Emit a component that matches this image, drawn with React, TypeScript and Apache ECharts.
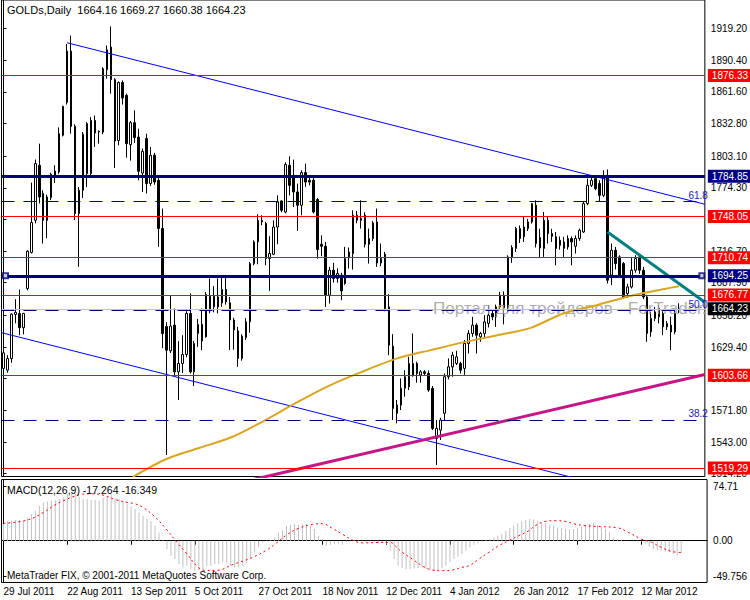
import React, { useEffect, useRef } from 'react';
import * as echarts from 'echarts';

const FONT = "'Liberation Sans', Arial, sans-serif";
const FS = 10;
const MONTHS = ['Jan', 'Feb', 'Mar', 'Apr', 'May', 'Jun', 'Jul', 'Aug', 'Sep', 'Oct', 'Nov', 'Dec'];
const HOLIDAYS = ['2012-01-02'];

function tradingDays(y: number, m: number, d: number, n: number): string[] {
  const out: string[] = [];
  const dt = new Date(Date.UTC(y, m, d));
  while (out.length < n) {
    const wd = dt.getUTCDay();
    const iso = dt.toISOString().slice(0, 10);
    if (wd !== 0 && wd !== 6 && HOLIDAYS.indexOf(iso) < 0) {
      out.push(`${dt.getUTCDate()} ${MONTHS[dt.getUTCMonth()]} ${dt.getUTCFullYear()}`);
    }
    dt.setUTCDate(dt.getUTCDate() + 1);
  }
  return out;
}

const categories = tradingDays(2011, 6, 29, 177);
const LAST = 170;

// [open, high, low, close]
const ohlc: number[][] = [
  [1610.0, 1632.0, 1608.0, 1624.1], [1608.4, 1622.0, 1606.0, 1618.9], [1618.9, 1660.0, 1615.0, 1659.3], [1659.0, 1673.0, 1651.0, 1661.0],
  [1659.9, 1681.7, 1640.2, 1647.0], [1647.0, 1660.5, 1641.0, 1660.0], [1682.7, 1717.5, 1681.0, 1716.6], [1715.4, 1779.0, 1714.5, 1742.8],
  [1744.7, 1800.0, 1742.0, 1796.3], [1794.7, 1814.4, 1760.0, 1765.9], [1769.0, 1772.0, 1723.5, 1744.7], [1744.7, 1768.0, 1728.4, 1765.9],
  [1765.4, 1788.0, 1763.0, 1786.5], [1785.6, 1794.7, 1778.6, 1789.5], [1788.6, 1829.2, 1787.0, 1823.5], [1822.0, 1849.0, 1821.0, 1848.3],
  [1852.0, 1905.0, 1850.0, 1898.6], [1898.6, 1912.8, 1823.5, 1830.1], [1830.1, 1832.0, 1745.0, 1750.8], [1750.8, 1775.0, 1702.3, 1772.0],
  [1772.0, 1825.0, 1765.0, 1822.9], [1832.6, 1834.0, 1775.0, 1787.2], [1787.2, 1838.6, 1783.5, 1835.6], [1835.6, 1840.0, 1811.4, 1824.1],
  [1825.6, 1826.5, 1814.4, 1825.0], [1825.0, 1884.0, 1823.0, 1882.6], [1881.7, 1903.7, 1873.5, 1899.8], [1902.2, 1921.0, 1859.9, 1872.6],
  [1872.6, 1874.0, 1792.3, 1816.8], [1817.3, 1871.0, 1812.9, 1870.1], [1870.1, 1872.0, 1850.0, 1855.9], [1858.3, 1860.0, 1801.7, 1814.4],
  [1813.5, 1835.0, 1799.0, 1833.5], [1833.5, 1844.7, 1815.0, 1819.9], [1820.4, 1828.0, 1781.1, 1789.3], [1787.7, 1810.0, 1770.5, 1807.4],
  [1819.0, 1823.5, 1769.0, 1778.1], [1778.1, 1811.4, 1776.0, 1803.8], [1803.8, 1806.0, 1777.0, 1779.5], [1781.1, 1783.0, 1720.5, 1737.2],
  [1737.2, 1755.4, 1628.4, 1641.8], [1648.0, 1652.0, 1531.2, 1626.6], [1626.0, 1676.0, 1624.0, 1648.4], [1649.3, 1664.5, 1603.9, 1606.9],
  [1606.9, 1634.8, 1581.2, 1614.5], [1614.5, 1640.2, 1605.7, 1622.6], [1622.6, 1662.0, 1620.0, 1659.9], [1659.9, 1678.2, 1605.4, 1606.9],
  [1606.9, 1635.0, 1593.9, 1632.7], [1641.8, 1655.0, 1629.6, 1650.0], [1650.0, 1664.5, 1626.6, 1635.0], [1638.7, 1679.3, 1638.0, 1677.2],
  [1675.7, 1691.8, 1660.0, 1662.3], [1666.0, 1684.8, 1661.0, 1675.7], [1675.0, 1691.8, 1660.0, 1666.0], [1669.6, 1693.2, 1666.0, 1681.7],
  [1681.7, 1693.0, 1668.0, 1670.5], [1669.6, 1675.0, 1626.6, 1654.0], [1654.0, 1656.0, 1627.0, 1645.0], [1644.1, 1647.8, 1611.4, 1619.1],
  [1619.1, 1641.0, 1617.0, 1639.3], [1638.1, 1655.7, 1636.0, 1652.3], [1652.3, 1706.8, 1642.3, 1705.3], [1705.3, 1726.5, 1703.8, 1725.0],
  [1725.0, 1750.2, 1704.7, 1744.7], [1743.2, 1749.3, 1740.2, 1744.7], [1741.7, 1743.2, 1703.8, 1709.9], [1709.9, 1730.2, 1680.5, 1714.5],
  [1713.8, 1744.7, 1713.0, 1738.6], [1738.6, 1767.4, 1722.9, 1761.4], [1762.3, 1763.0, 1752.0, 1753.8], [1752.3, 1797.5, 1751.0, 1795.4],
  [1794.7, 1802.9, 1767.4, 1776.5], [1784.1, 1799.9, 1756.8, 1770.5], [1770.5, 1778.1, 1735.0, 1758.4], [1758.4, 1790.2, 1749.3, 1788.1],
  [1788.1, 1796.3, 1775.0, 1779.5], [1781.1, 1785.6, 1776.5, 1779.5], [1781.1, 1784.7, 1751.0, 1752.3], [1763.6, 1765.0, 1709.9, 1718.1],
  [1722.9, 1731.0, 1712.0, 1721.1], [1721.1, 1725.0, 1665.9, 1676.6], [1676.6, 1702.3, 1669.0, 1699.3], [1699.3, 1706.0, 1688.0, 1691.8],
  [1691.8, 1701.0, 1688.0, 1696.3], [1694.8, 1696.9, 1672.0, 1680.5], [1687.2, 1720.5, 1686.0, 1709.9], [1711.4, 1719.9, 1700.8, 1715.9],
  [1714.5, 1753.8, 1699.9, 1749.3], [1744.7, 1753.2, 1742.0, 1749.3], [1746.3, 1762.9, 1737.2, 1744.7], [1749.3, 1752.0, 1720.0, 1722.9],
  [1722.9, 1737.2, 1705.3, 1728.1], [1728.1, 1744.0, 1726.0, 1742.3], [1743.2, 1755.4, 1702.3, 1705.9], [1705.9, 1723.6, 1703.0, 1709.9],
  [1713.8, 1716.0, 1662.0, 1664.5], [1665.9, 1677.5, 1622.0, 1631.1], [1630.2, 1641.1, 1563.0, 1573.6], [1576.6, 1581.2, 1560.0, 1569.1],
  [1576.6, 1600.9, 1572.1, 1591.9], [1591.9, 1608.4, 1584.2, 1602.4], [1593.2, 1620.5, 1590.3, 1614.5], [1603.9, 1641.8, 1602.4, 1614.5],
  [1614.5, 1616.0, 1597.0, 1605.4], [1603.9, 1608.4, 1597.0, 1606.9], [1606.9, 1608.4, 1603.0, 1605.4], [1605.4, 1608.0, 1588.7, 1590.3],
  [1591.8, 1594.0, 1553.9, 1555.4], [1546.3, 1563.0, 1522.1, 1555.4], [1553.9, 1565.0, 1544.8, 1563.0], [1569.1, 1605.4, 1563.0, 1602.4],
  [1602.4, 1619.1, 1600.0, 1611.4], [1611.4, 1625.1, 1602.4, 1622.1], [1614.5, 1626.0, 1613.0, 1620.5], [1614.5, 1616.0, 1605.4, 1608.4],
  [1610.0, 1635.7, 1603.9, 1632.7], [1632.7, 1644.8, 1623.6, 1641.8], [1641.8, 1656.9, 1638.7, 1649.3], [1649.3, 1651.0, 1623.6, 1640.2],
  [1638.7, 1643.2, 1634.2, 1641.8], [1641.8, 1658.4, 1637.2, 1652.3], [1650.9, 1667.5, 1647.2, 1658.4], [1659.9, 1663.0, 1653.8, 1656.9],
  [1656.9, 1668.0, 1647.8, 1665.9], [1665.9, 1679.6, 1664.0, 1676.6], [1676.6, 1680.0, 1650.0, 1665.0], [1665.0, 1712.9, 1661.0, 1711.4],
  [1711.4, 1722.0, 1706.0, 1719.9], [1719.1, 1738.6, 1715.9, 1737.2], [1737.2, 1740.0, 1724.0, 1728.1], [1729.7, 1747.8, 1725.0, 1738.6],
  [1737.2, 1746.0, 1735.0, 1743.2], [1743.2, 1760.5, 1741.7, 1759.9], [1758.4, 1762.9, 1720.0, 1723.6], [1729.0, 1737.0, 1711.0, 1719.5],
  [1719.1, 1752.3, 1711.4, 1744.7], [1744.7, 1747.8, 1723.6, 1732.6], [1732.6, 1737.0, 1725.0, 1730.2], [1729.7, 1734.1, 1703.8, 1719.1],
  [1726.5, 1730.0, 1718.0, 1722.0], [1719.1, 1729.7, 1711.4, 1725.0], [1720.5, 1731.0, 1718.0, 1728.1], [1728.1, 1730.0, 1703.8, 1725.0],
  [1721.1, 1731.0, 1714.5, 1728.1], [1728.1, 1737.2, 1726.0, 1735.6], [1734.1, 1761.4, 1733.2, 1759.9], [1759.9, 1782.6, 1758.4, 1776.5],
  [1776.5, 1785.6, 1775.0, 1781.1], [1782.6, 1785.6, 1772.0, 1773.5], [1778.1, 1781.1, 1761.4, 1767.4], [1767.4, 1790.2, 1765.9, 1784.1],
  [1785.6, 1790.9, 1687.2, 1690.2], [1694.8, 1723.6, 1685.7, 1717.5], [1717.5, 1720.5, 1700.0, 1705.3], [1711.4, 1712.9, 1693.2, 1694.8],
  [1705.3, 1706.8, 1673.6, 1675.0], [1678.1, 1687.0, 1674.0, 1684.1], [1684.1, 1711.4, 1682.7, 1699.3], [1699.3, 1712.9, 1697.0, 1709.9],
  [1711.4, 1713.0, 1696.0, 1699.3], [1699.3, 1702.3, 1673.0, 1675.0], [1675.0, 1677.0, 1634.2, 1641.8], [1643.2, 1661.4, 1638.7, 1655.4],
  [1655.4, 1665.9, 1653.0, 1661.4], [1664.5, 1667.5, 1650.9, 1656.9], [1659.9, 1662.0, 1640.2, 1647.8], [1647.8, 1653.0, 1645.0, 1650.9],
  [1649.3, 1656.9, 1626.6, 1643.2], [1643.2, 1663.0, 1641.0, 1659.9], [1664.16, 1669.27, 1660.38, 1664.23],
];

const macdHist: number[] = [
  23.0, 26.8, 27.7, 28.6, 28.6, 28.6, 32.3, 36.9, 41.5, 48.4, 53.0, 54.4, 55.3, 56.3, 57.6, 60.0,
  64.6, 65.5, 64.6, 60.9, 57.6, 57.6, 56.3, 56.3, 55.3, 59.0, 62.3, 63.6, 59.0, 57.6, 55.3, 50.7,
  47.0, 43.8, 39.2, 34.6, 30.0, 26.8, 20.8, 11.5, 0.5, -11.5, -20.8, -25.4, -32.3, -36.9, -34.6, -39.2,
  -41.5, -40.6, -39.2, -34.6, -34.6, -32.3, -32.3, -30.0, -30.0, -34.6, -36.9, -36.9, -34.6, -30.0,
  -23.0, -16.1, -9.2, -2.3, 0.3, 1.0, 4.6, 11.5, 14.8, 20.8, 22.1, 23.0, 22.1, 23.0, 23.0, 20.8,
  16.1, 6.9, 2.3, -6.9, -5.5, -4.6, -3.7, -5.5, -2.3, -1.4, 0.5, 0.5, -0.9, -2.3, -0.9, -2.3,
  -3.7, -2.3, -4.6, -13.8, -25.4, -34.6, -37.8, -39.2, -39.2, -38.3, -37.8, -37.8, -39.2, -40.6, -42.4, -41.5,
  -37.8, -34.6, -30.0, -25.4, -22.1, -18.4, -13.8, -9.2, -5.5, -3.7, -0.9, 0.9, 2.3, 4.6, 6.9, 9.2,
  13.8, 17.5, 20.8, 24.0, 26.8, 28.6, 30.0, 29.5, 27.7, 25.4, 24.0, 22.1, 20.8, 18.4, 17.5, 16.1,
  15.7, 16.1, 17.5, 19.4, 22.1, 23.0, 24.0, 22.1, 19.4, 16.1, 12.0, 4.6, 2.3, 0.9, -0.9, -1.4,
  -0.9, -0.9, -1.4, -3.7, -8.3, -11.5, -12.9, -13.8, -14.8, -16.1, -18.4, -20.8, -17.3,
];

// [bar, value]
const signalPts: number[][] = [
  [0, 24], [6, 28.6], [10, 39], [12.6, 48.4], [15, 55.3], [19, 63.5], [22, 65], [25, 63], [28, 57], [31, 53],
  [33, 51], [35, 46], [38, 33], [41, 15], [43.5, -2], [46, -18], [48.5, -35], [50.5, -41], [53.5, -41], [57.5, -33],
  [62.5, -23], [66, -13], [68.5, -3], [71, 8], [74, 17], [77.5, 22.5], [80, 23.5], [82.5, 17], [85, 9], [87.5, 1],
  [90, -3], [94, -2.5], [97, -2.3], [98.4, -8], [100, -16], [102.6, -25.4], [105, -34.6], [107.6, -40.6], [110, -41.5],
  [112.6, -40.6], [115, -36.9], [117, -34], [119.25, -25.4], [121.75, -16.1], [124.25, -6.9], [126.75, 0], [129.25, 6.9],
  [131.75, 13.8], [133.4, 20.8], [135.9, 26.8], [138.4, 27.7], [140.9, 26.8], [143.4, 23], [146, 20.8], [150, 19.4],
  [154, 18], [156.75, 11.5], [160, 2.3], [162.6, -2.3], [165, -9.2], [167.6, -14.8], [170, -16.349],
];

// [bar, price]
const maPts: number[][] = [
  [32.5, 1511.2], [41, 1527.6], [49.25, 1537.6], [57.5, 1547.6], [65, 1561.2], [73.5, 1578.4], [81.75, 1593.9],
  [90, 1606.6], [99.25, 1619.3], [107.5, 1626.6], [116, 1633.9], [124.25, 1640.2], [132.5, 1646.6], [141, 1660.2],
  [149.25, 1667.5], [157.5, 1675.7], [166, 1682.0], [170, 1684.8],
];

const priceTicks = [1919.2, 1890.4, 1861.6, 1832.8, 1803.1, 1774.3, 1745.5, 1716.7, 1687.9, 1658.2, 1629.4, 1600.6, 1571.8, 1543.0, 1514.2];
const macdTicks = [74.71, 0, -49.756];
const macdTickLabels = ['74.71', '0.00', '-49.756'];

const redLevels = [1876.33, 1748.05, 1710.74, 1676.77, 1603.66, 1519.29];
const navyLevels = [1784.85, 1694.25];
const fiboLevels = [1761.6, 1662.6, 1563.2];
const fiboNames = ['61.8', '50.0', '38.2'];
const bidPrice = 1664.23;

const upperChannel = [[16, 1906.2], [176.5, 1759.3]];
const lowerChannel = [[-0.5, 1642.5], [150, 1504.5]];
const magentaLine = [[60, 1506.5], [176.5, 1604.5]];
const tealLine = [[152, 1734.1], [176.5, 1670.2]];
const anchorPts = [[0.5, 1694.25], [175.75, 1694.25]];

const Y_MIN = 1511.65;
const Y_MAX = 1945.1;
const M_MIN = -57.8;
const M_MAX = 84.7;

const showIdx = (idx: number) => idx % 16 === 0 && idx <= LAST;

function levelLine(value: number, color: string, width: number, bg: string) {
  return {
    yAxis: value,
    lineStyle: { color, width, type: 'solid', opacity: 1 },
    label: {
      show: true, position: 'end', distance: 3, formatter: value.toFixed(2),
      color: '#fff', backgroundColor: bg, padding: [1, 4, 1, 4], fontSize: FS, fontFamily: FONT, lineHeight: 11,
    },
  };
}

function buildOption() {
  const levelData: any[] = [];
  levelData.push(levelLine(bidPrice, '#C0C0C0', 1, '#000'));
  fiboLevels.forEach((v, i) => {
    levelData.push({
      yAxis: v,
      lineStyle: { color: '#000080', width: 1, type: [13, 9] },
      label: { show: true, position: 'insideEndTop', distance: [-3, 1], formatter: fiboNames[i], color: '#2020C0', fontSize: FS, fontFamily: FONT },
    });
  });
  redLevels.forEach((v) => levelData.push(levelLine(v, '#FF0000', 1, '#FF0000')));
  navyLevels.forEach((v) => levelData.push(levelLine(v, '#000080', 3, '#000080')));

  const trend = (data: number[][], color: string, width: number) => ({
    type: 'line', xAxisIndex: 1, yAxisIndex: 0, data, showSymbol: false, silent: true, clip: true,
    lineStyle: { color, width }, z: 4,
  });

  return {
    animation: false,
    backgroundColor: '#fff',
    textStyle: { fontFamily: FONT, fontSize: FS },
    grid: [
      { left: 1.5, top: -0.5, width: 708, height: 477, show: true, borderColor: '#000', borderWidth: 1, backgroundColor: 'transparent' },
      { left: 1.5, top: 479.5, width: 708, height: 103, show: true, borderColor: '#000', borderWidth: 1, backgroundColor: 'transparent' },
    ],
    xAxis: [
      { type: 'category', gridIndex: 0, data: categories, boundaryGap: true, axisLine: { show: false }, axisTick: { show: false }, axisLabel: { show: false }, splitLine: { show: false } },
      { type: 'value', gridIndex: 0, min: -0.5, max: 176.5, show: false },
      {
        type: 'category', gridIndex: 1, data: categories, boundaryGap: true,
        axisLine: { show: true, lineStyle: { color: '#000', width: 1 } },
        axisTick: { show: true, alignWithLabel: true, interval: showIdx, length: 4, lineStyle: { color: '#000' } },
        axisLabel: { show: true, interval: showIdx, align: 'left', margin: 4, color: '#000', fontSize: FS, fontFamily: FONT },
        splitLine: { show: false },
      },
      { type: 'value', gridIndex: 1, min: -0.5, max: 176.5, show: false },
    ],
    yAxis: [
      {
        type: 'value', gridIndex: 0, position: 'right', min: Y_MIN, max: Y_MAX,
        splitLine: { show: false },
        axisLine: { show: true, lineStyle: { color: '#000' } },
        axisTick: { show: true, length: 3, customValues: priceTicks, lineStyle: { color: '#000' } },
        axisLabel: { show: true, customValues: priceTicks, formatter: (v: number) => v.toFixed(2), margin: 6, color: '#000', fontSize: FS, fontFamily: FONT },
      },
      {
        type: 'value', gridIndex: 1, position: 'right', min: M_MIN, max: M_MAX,
        splitLine: { show: false },
        axisLine: { show: true, lineStyle: { color: '#000' } },
        axisTick: { show: true, length: 3, customValues: macdTicks, lineStyle: { color: '#000' } },
        axisLabel: {
          show: true, customValues: macdTicks, margin: 6, color: '#000', fontSize: FS, fontFamily: FONT,
          formatter: (v: number) => { const k = macdTicks.findIndex((t) => Math.abs(t - v) < 1e-6); return k >= 0 ? macdTickLabels[k] : ''; },
        },
      },
    ],
    graphic: [
      { type: 'text', left: 433, top: 300, z: 2.5, silent: true, style: { text: 'Портал для трейдеров - ForTrader.ru', fill: 'rgba(160,160,160,0.85)', font: `17px ${FONT}` } },
      { type: 'text', left: 7, top: 4, z: 50, silent: true, style: { text: 'GOLDs,Daily  1664.16 1669.27 1660.38 1664.23', fill: '#000', font: `11px ${FONT}` } },
      { type: 'text', left: 7, top: 484, z: 50, silent: true, style: { text: 'MACD(12,26,9) -17.264 -16.349', fill: '#000', font: `10.5px ${FONT}` } },
      { type: 'text', left: 7, top: 570, z: 50, silent: true, style: { text: 'MetaTrader FIX, © 2001-2011 MetaQuotes Software Corp.', fill: '#000', font: `${FS}px ${FONT}` } },
    ],
    series: [
      {
        type: 'candlestick', xAxisIndex: 0, yAxisIndex: 0, silent: true, z: 2, barWidth: 2,
        data: ohlc.map(([o, h, l, c]) => [o, c, l, h]),
        itemStyle: { color: '#fff', color0: '#000', borderColor: '#000', borderColor0: '#000', borderWidth: 1 },
      },
      {
        type: 'line', xAxisIndex: 1, yAxisIndex: 0, data: [], silent: true, z: 3,
        markLine: { silent: true, symbol: ['none', 'none'], animation: false, data: levelData },
      },
      trend(upperChannel, '#0000FF', 1),
      trend(lowerChannel, '#0000FF', 1),
      trend(magentaLine, '#C71585', 3),
      trend(tealLine, '#008080', 3),
      {
        type: 'line', xAxisIndex: 1, yAxisIndex: 0, data: maPts, smooth: 0.3, showSymbol: false, silent: true, clip: true,
        lineStyle: { color: '#DAA520', width: 2 }, z: 4,
      },
      {
        type: 'scatter', xAxisIndex: 1, yAxisIndex: 0, data: anchorPts, symbol: 'rect', symbolSize: 5, silent: true, z: 6,
        itemStyle: { color: '#fff', borderColor: '#000080', borderWidth: 2 },
      },
      {
        type: 'bar', xAxisIndex: 2, yAxisIndex: 1, data: macdHist, barWidth: 1, silent: true,
        itemStyle: { color: '#C0C0C0' },
      },
      {
        type: 'line', xAxisIndex: 3, yAxisIndex: 1, data: signalPts, smooth: 0.4, showSymbol: false, silent: true,
        lineStyle: { color: '#FF0000', width: 1, type: [2, 3] }, z: 4,
      },
    ],
  };
}

export default function App() {
  const ref = useRef<HTMLDivElement>(null);
  useEffect(() => {
    const chart = echarts.init(ref.current!, undefined, { renderer: 'svg' });
    chart.setOption(buildOption() as any);
    return () => chart.dispose();
  }, []);
  return <div ref={ref} style={{ position: 'fixed', left: 0, top: 0, width: 750, height: 600, background: '#fff' }} />;
}
